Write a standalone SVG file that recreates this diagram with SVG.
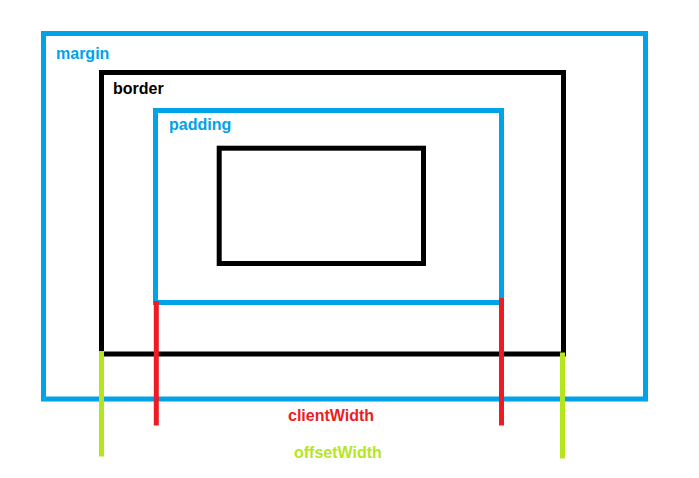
<svg xmlns="http://www.w3.org/2000/svg" width="699" height="478" viewBox="0 0 699 478">
<style>
.box{fill:none;stroke-width:5}
.blue{stroke:#00a2e8}
.black{stroke:#000}
.lbl{font-family:"Liberation Sans",Arial,sans-serif;font-weight:bold;font-size:16px}
.ln{stroke-width:5;stroke-linecap:butt;fill:none}
</style>
<rect width="699" height="478" fill="#fff"/>
<g id="margin">
<rect class="box blue" x="43.5" y="33.5" width="602" height="365.5"/>
<text class="lbl" x="56" y="59" fill="#00a2e8">margin</text>
</g>
<g id="border">
<rect class="box black" x="101.5" y="72.5" width="462" height="281.5"/>
<text class="lbl" x="113" y="94" fill="#000">border</text>
</g>
<g id="padding">
<rect class="box blue" x="155.5" y="110.5" width="346" height="192"/>
<text class="lbl" x="169" y="130" fill="#00a2e8">padding</text>
</g>
<g id="content">
<rect class="box black" x="219.2" y="148.2" width="204.3" height="115.3"/>
</g>
<g id="connectors">
<line class="ln" x1="156.3" y1="301" x2="156.3" y2="425.5" stroke="#ed1c24"/>
<line class="ln" x1="501.5" y1="298" x2="501.5" y2="425.5" stroke="#ed1c24"/>
<line class="ln" x1="101.5" y1="351" x2="101.5" y2="456.5" stroke="#b5e61d"/>
<line class="ln" x1="562.5" y1="352.5" x2="562.5" y2="458.5" stroke="#b5e61d"/>
</g>
<g id="clientWidth">
<text class="lbl" x="288" y="421" fill="#ed1c24">clientWidth</text>
</g>
<g id="offsetWidth">
<text class="lbl" x="294" y="458" fill="#b5e61d">offsetWidth</text>
</g>
</svg>
